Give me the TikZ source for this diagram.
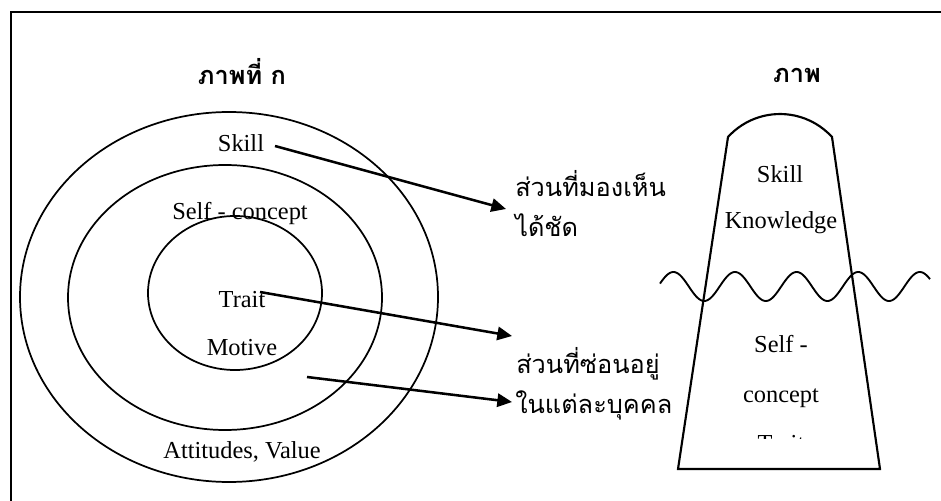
\documentclass[tikz,border=0pt]{standalone}
\usepackage{fontspec}
\setmainfont{Liberation Serif}
\newfontfamily\thaifont[Script=Thai]{Loma}
\usetikzlibrary{arrows.meta}
\tikzset{
  lbl/.style={inner sep=0pt, anchor=base, font=\fontsize{18.3}{22}\selectfont},
  thaitxt/.style={inner sep=0pt, anchor=base west, font=\thaifont\fontsize{19}{23}\selectfont},
  thaititle/.style={inner sep=0pt, anchor=base, font=\thaifont\bfseries\fontsize{19}{23}\selectfont},
  ring/.style={line width=1.3pt},
  conn/.style={line width=1.9pt, -{Triangle[length=11pt,width=10pt]}},
  frameline/.style={line width=2.2pt},
  hill/.style={line width=1.6pt, line join=miter},
  wave/.style={line width=1.4pt}
}
\begin{document}
\begin{tikzpicture}[x=0.75pt,y=0.75pt]
\useasboundingbox (0,0) rectangle (941,500);
% frame
\draw[frameline] (11,-5) -- (11,488) -- (946,488);
% titles
\node[thaititle] (t1) at (242,415) {ภาพที่ ก};
\node[thaititle] (t2) at (797,417) {ภาพ};
% rings
\draw[ring] (229,203) ellipse [x radius=156.75pt, y radius=138.75pt];
\draw[ring] (225,202.5) ellipse [x radius=117.75pt, y radius=99.375pt];
\draw[ring] (235,207) ellipse [x radius=65.25pt, y radius=57.75pt];
% ring labels
\node[lbl] (skillL) at (241,348) {Skill};
\node[lbl] (selfL) at (240,280) {Self - concept};
\node[lbl] (traitL) at (242,193) {Trait};
\node[lbl] (motiveL) at (242,145) {Motive};
\node[lbl] (attL) at (242,42) {Attitudes, Value};
% Thai labels
\node[thaitxt] (vis1) at (515,303) {ส่วนที่มองเห็น};
\node[thaitxt] (vis2) at (515,263) {ได้ชัด};
\node[thaitxt] (hid1) at (516,127) {ส่วนที่ซ่อนอยู่};
\node[thaitxt] (hid2) at (515,87) {ในแต่ละบุคคล};
% arrows
\coordinate (a1s) at (275,354);
\coordinate (a1e) at (506,291);
\coordinate (a2s) at (260,208);
\coordinate (a2e) at (512,164);
\coordinate (a3s) at (307,123);
\coordinate (a3e) at (512,98);
\draw[conn] (a1s) -- (a1e);
\draw[conn] (a2s) -- (a2e);
\draw[conn] (a3s) -- (a3e);
% iceberg
\draw[hill] (678,31) -- (728,363) arc[start angle=137.7, end angle=42.3, radius=52.725pt] -- (880,31) -- cycle;
\draw[wave] plot[domain=660:930, samples=220, smooth] (\x, {213.5 + 14.5*cos((\x-735)/61.6*360)});
\node[lbl] (skillR) at (780,317) {Skill};
\node[lbl] (knowR) at (781,271) {Knowledge};
\node[lbl] (selfR) at (781,148) {Self -};
\node[lbl] (concR) at (781,98) {concept};
\begin{scope}
\clip (700,62) rectangle (860,75);
\node[lbl] (traitR) at (781,49) {Trait};
\end{scope}
\end{tikzpicture}
\end{document}
